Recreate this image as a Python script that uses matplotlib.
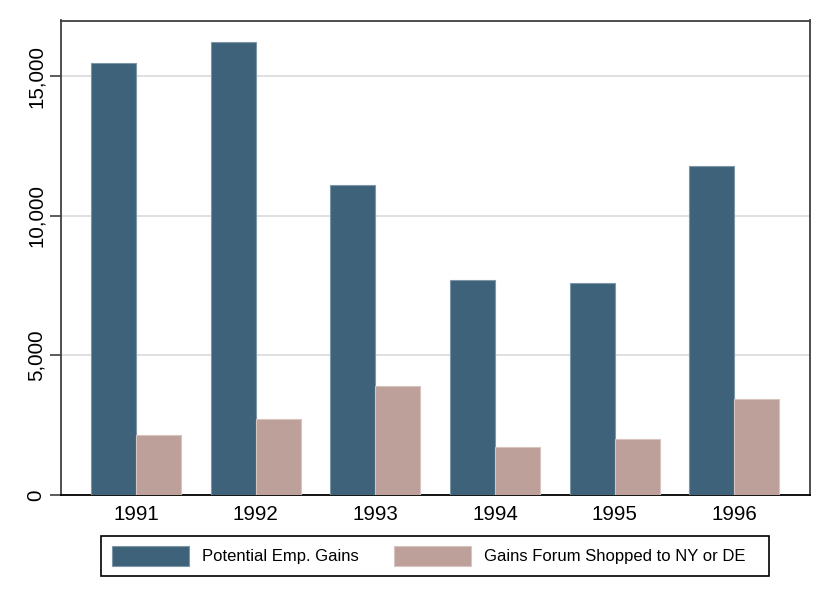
import matplotlib
matplotlib.use("Agg")
import matplotlib.pyplot as plt
import numpy as np
from matplotlib.ticker import FuncFormatter
from matplotlib.patches import Rectangle

plt.rcParams['font.family'] = ['Liberation Sans', 'DejaVu Sans']

years = ["1991", "1992", "1993", "1994", "1995", "1996"]
potential_gains = [15480, 16220, 11100, 7700, 7590, 11790]
forum_shopped = [2150, 2715, 3920, 1710, 2000, 3440]
series_labels = ["Potential Emp. Gains", "Gains Forum Shopped to NY or DE"]
yticks = [0, 5000, 10000, 15000]

blue = "#3e6279"
pink = "#bea09a"

W, H = 830, 604
fig = plt.figure(figsize=(8.3, 6.04), dpi=100)
ax = fig.add_axes([61/W, 1 - 495/H, (809.5 - 61)/W, (495 - 20.5)/H])

x = np.arange(len(years))
w = 0.376
ax.bar(x - w/2, potential_gains, w, color=blue, edgecolor="#7d97a8", linewidth=0.8,
       label=series_labels[0], zorder=3)
ax.bar(x + w/2, forum_shopped, w, color=pink, edgecolor="#d8c4bf", linewidth=0.8,
       label=series_labels[1], zorder=3)

ax.set_xlim(-0.627, len(years) - 1 + 0.627)
ax.set_ylim(0, 17000)
ax.set_yticks(yticks)
ax.yaxis.set_major_formatter(FuncFormatter(lambda v, p: f"{int(v):,}"))
ax.set_xticks(x)
ax.set_xticklabels(years)
ax.tick_params(axis='x', length=0, labelsize=14.8, pad=7.5)
ax.tick_params(axis='y', length=8, width=1.2, color="#404040", labelsize=14.8, pad=3)
for lab in ax.get_yticklabels():
    lab.set_rotation(90)
    lab.set_va('center')

ax.grid(axis='y', color="#e0e0e0", linewidth=1.4, zorder=0)
ax.set_axisbelow(True)
for s in ax.spines.values():
    s.set_color("#404040")
    s.set_linewidth(1.3)
ax.spines['bottom'].set_color("#000000")

leg = fig.legend(loc='center', bbox_to_anchor=(429/W, 1 - 556/H), ncol=2,
                 frameon=False, fontsize=12,
                 handlelength=4.6, handleheight=1.55, columnspacing=2.1,
                 handletextpad=0.8, borderpad=0.6, borderaxespad=0)

# legend frame box (Stata style, with wider trailing padding)
fig.patches.append(Rectangle((101/W, 1 - 576/H), (769 - 101)/W, 40/H,
                             transform=fig.transFigure, fill=False,
                             edgecolor="#000000", linewidth=1.2, zorder=0))

fig.savefig("out.png", dpi=100, facecolor="white")
